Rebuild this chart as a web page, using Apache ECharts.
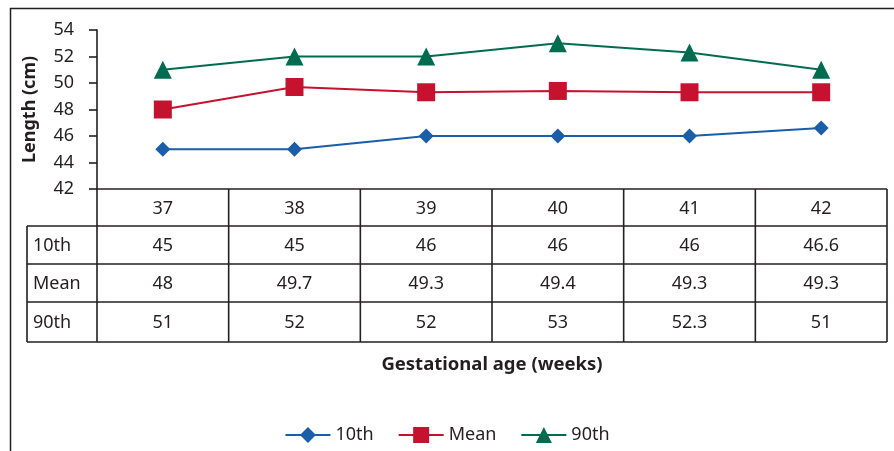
<!DOCTYPE html>
<html>
<head>
<meta charset="utf-8">
<title>Length by gestational age</title>
<script src="https://cdn.jsdelivr.net/npm/echarts@6/dist/echarts.min.js"></script>
<style>
  html, body { margin: 0; padding: 0; background: #fff; }
  #chart { width: 894px; height: 451px; }
</style>
</head>
<body>
<div id="chart"></div>
<script>
// data
var weeks = ["37", "38", "39", "40", "41", "42"];
var p10 = [45, 45, 46, 46, 46, 46.6];
var mean = [48, 49.7, 49.3, 49.4, 49.3, 49.3];
var p90 = [51, 52, 52, 53, 52.3, 51];
var rowNames = ["10th", "Mean", "90th"];
var yTicks = { min: 42, max: 54, step: 2 };

var ink = "#231f20";
var font = "'Noto Sans', sans-serif";
var blue = "#1a5da9";
var red = "#c4122f";
var green = "#006c4f";

var chart = echarts.init(document.getElementById("chart"));

// grid edges (table columns follow the category bands)
var gLeft = 97, gRight = 887, gTop = 30, gBottom = 189;
var rows = [189, 226, 264, 302, 342];
var labelLeft = 27;

function buildTable() {
  var els = [];
  var colW = (gRight - gLeft) / weeks.length;
  var line = function (x1, y1, x2, y2) {
    els.push({
      type: "line",
      shape: { x1: x1, y1: y1, x2: x2, y2: y2 },
      style: { stroke: ink, lineWidth: 1.6 },
      silent: true
    });
  };
  var text = function (t, x, y, align) {
    els.push({
      type: "text",
      x: x, y: y,
      style: {
        text: t, fill: ink, font: "18px " + font,
        align: align || "center", verticalAlign: "middle"
      },
      silent: true
    });
  };
  // horizontal lines
  line(gLeft, rows[0], gRight, rows[0]);
  for (var r = 1; r < rows.length; r++) {
    line(labelLeft, rows[r], gRight, rows[r]);
  }
  // vertical lines
  line(labelLeft, rows[1], labelLeft, rows[4]);
  for (var c = 0; c <= weeks.length; c++) {
    line(gLeft + c * colW, rows[0], gLeft + c * colW, rows[4]);
  }
  // header row + values
  var series = [p10, mean, p90];
  for (var i = 0; i < weeks.length; i++) {
    var cx = gLeft + (i + 0.5) * colW;
    text(weeks[i], cx, (rows[0] + rows[1]) / 2 + 1);
    for (var s = 0; s < series.length; s++) {
      text(String(series[s][i]), cx, (rows[s + 1] + rows[s + 2]) / 2 + 1);
    }
  }
  for (var k = 0; k < rowNames.length; k++) {
    text(rowNames[k], 33, (rows[k + 1] + rows[k + 2]) / 2 + 1, "left");
  }
  // outer frame (top + left only)
  els.push({ type: "line", shape: { x1: 10, y1: 8.5, x2: 894, y2: 8.5 }, style: { stroke: ink, lineWidth: 1.5 }, silent: true });
  els.push({ type: "line", shape: { x1: 10.5, y1: 8, x2: 10.5, y2: 451 }, style: { stroke: ink, lineWidth: 1.5 }, silent: true });
  return els;
}

var option = {
  animation: false,
  textStyle: { fontFamily: font },
  grid: { left: gLeft, right: 894 - gRight, top: gTop, bottom: 451 - gBottom },
  legend: {
    bottom: 2,
    left: "center",
    itemWidth: 45,
    itemHeight: 20,
    itemGap: 24,
    textStyle: { color: ink, fontSize: 18, fontFamily: font },
    data: rowNames
  },
  xAxis: {
    type: "category",
    data: weeks,
    boundaryGap: true,
    axisLine: { show: false },
    axisTick: { show: false },
    axisLabel: { show: false },
    name: "Gestational age (weeks)",
    nameLocation: "middle",
    nameGap: 166,
    nameTextStyle: { color: ink, fontSize: 18.5, fontWeight: "bold", fontFamily: font }
  },
  yAxis: {
    type: "value",
    min: yTicks.min,
    max: yTicks.max,
    interval: yTicks.step,
    name: "Length (cm)",
    nameLocation: "middle",
    nameRotate: 90,
    nameGap: 58,
    nameTextStyle: { color: ink, fontSize: 18, fontWeight: "bold", fontFamily: font },
    axisLine: { show: true, lineStyle: { color: ink, width: 1.6 } },
    axisTick: { show: true, length: 8, lineStyle: { color: ink, width: 1.6 } },
    axisLabel: { color: ink, fontSize: 18, margin: 23, fontFamily: font },
    splitLine: { show: false }
  },
  series: [
    {
      name: "10th",
      type: "line",
      data: p10,
      symbol: "diamond",
      symbolSize: 15,
      lineStyle: { color: blue, width: 2 },
      itemStyle: { color: blue }
    },
    {
      name: "Mean",
      type: "line",
      data: mean,
      symbol: "rect",
      symbolSize: 18,
      lineStyle: { color: red, width: 2 },
      itemStyle: { color: red }
    },
    {
      name: "90th",
      type: "line",
      data: p90,
      symbol: "triangle",
      symbolSize: 18,
      lineStyle: { color: green, width: 2 },
      itemStyle: { color: green }
    }
  ],
  graphic: buildTable()
};
chart.setOption(option);
</script>
</body>
</html>
